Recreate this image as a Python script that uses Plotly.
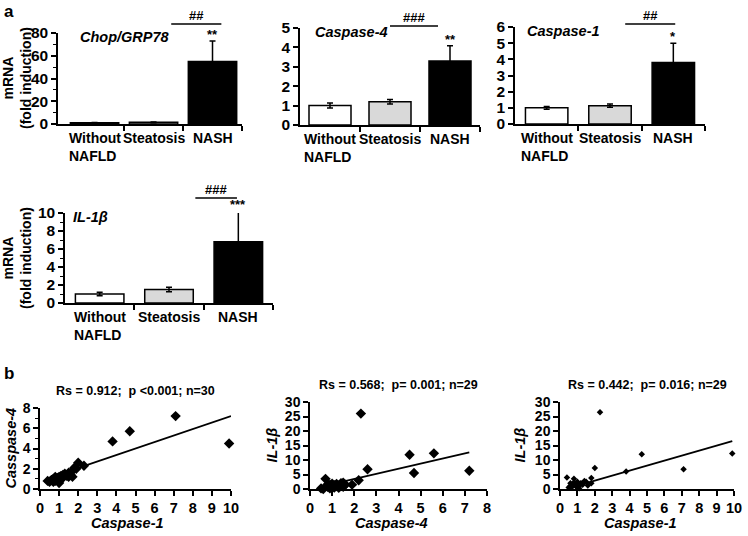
import plotly.graph_objects as go

W, H = 748, 536

# ---------------- data: panel a (bar charts) ----------------
group_labels = ["Without<br>NAFLD", "Steatosis", "NASH"]
bar_colors = ["white", "#d9d9d9", "black"]

chop_mean = [1.0, 1.5, 55.0]
chop_err = [0.3, 0.3, 18.0]
casp4_mean = [1.0, 1.2, 3.3]
casp4_err = [0.13, 0.12, 0.78]
casp1_mean = [1.0, 1.13, 3.8]
casp1_err = [0.08, 0.10, 1.2]
il1b_mean = [1.0, 1.5, 6.8]
il1b_err = [0.2, 0.25, 3.4]

# ---------------- data: panel b (scatter plots) ----------------
b1_x = [3.8, 4.7, 7.1, 9.9, 2.0, 2.3, 0.4, 0.5, 0.6, 0.7, 0.8, 0.9, 1.0, 1.0, 1.1,
        1.2, 1.3, 1.4, 1.5, 1.6, 1.7, 1.8, 1.7, 0.9, 1.1, 1.5, 1.2, 0.7, 1.9, 0.8]
b1_y = [4.7, 5.7, 7.2, 4.5, 2.6, 2.3, 0.8, 0.7, 0.9, 1.0, 0.8, 1.1, 0.6, 1.2, 1.0,
        1.4, 1.5, 1.3, 1.6, 1.4, 1.8, 2.1, 1.2, 0.9, 1.3, 1.2, 1.1, 0.7, 2.0, 1.2]
b1_line_x = [0.4, 10.0]
b1_line_y = [1.05, 7.2]

b2_x = [2.3, 4.5, 5.6, 7.2, 4.7, 2.6, 2.2, 1.9, 0.7, 0.6, 0.5, 0.9, 1.0, 1.1, 1.2,
        1.0, 0.8, 1.3, 1.4, 1.5, 1.6, 1.0, 1.2, 0.9, 1.5, 1.1, 1.3, 0.8, 1.4]
b2_y = [26.0, 11.8, 12.3, 6.3, 5.5, 6.8, 3.0, 1.5, 3.5, 0.0, 0.2, 1.5, 1.8, 0.5, 1.0,
        0.3, 0.8, 1.2, 2.0, 0.8, 1.5, 0.9, 1.7, 0.2, 2.2, 1.3, 0.4, 1.6, 1.0]
b2_line_x = [0.5, 7.2]
b2_line_y = [0.8, 12.6]

b3_x = [2.3, 4.7, 9.9, 7.1, 3.8, 2.0, 0.4, 0.8, 1.8, 1.8, 1.6, 0.5, 0.6, 0.7, 0.8,
        0.9, 1.0, 1.0, 1.1, 1.2, 1.3, 1.4, 0.7, 0.9, 1.1, 1.2, 1.5, 0.6, 1.0]
b3_y = [26.5, 12.0, 12.2, 6.8, 6.0, 7.2, 4.0, 3.5, 3.8, 2.0, 1.2, 0.5, 2.0, 1.5, 2.2,
        1.0, 0.5, 2.5, 1.2, 1.8, 1.5, 2.8, 0.8, 1.8, 0.3, 2.0, 2.5, 1.0, 1.5]
b3_line_x = [0.6, 9.9]
b3_line_y = [0.5, 16.5]

FONT = "Liberation Sans, Arial, sans-serif"


def dom(x0, x1, y0, y1):
    """pixel box (left, right, top, bottom) -> paper domains"""
    return [x0 / W, x1 / W], [1 - y1 / H, 1 - y0 / H]


def px(x, y):
    return x / W, 1 - y / H


fig = go.Figure()
layout = dict(
    width=W, height=H, margin=dict(l=0, r=0, t=0, b=0, autoexpand=False),
    paper_bgcolor="white", plot_bgcolor="white", showlegend=False,
    font=dict(family=FONT, color="black"),
)
annotations = []
shapes = []

bar_panels = [
    # means, errs, ymax, dtick, minor, gene, gene-x, sig, star, box, ytitle-pos,
    # sig-x, sig-offset(px), xrange, width
    (chop_mean, chop_err, 80, 20, 10, "Chop/GRP78", 0.11, "##", "**", (58, 242, 33, 124),
     (17, 78), (1.3, 2.15), 9, [-0.62, 2.5], 0.82),
    (casp4_mean, casp4_err, 5, 1, None, "Caspase-4", 0.07, "###", "**", (300, 480, 28, 125),
     None, (1.0, 1.8), 2, [-0.5, 2.5], 0.7),
    (casp1_mean, casp1_err, 6, 1, None, "Caspase-1", 0.055, "##", "*", (515, 705, 27, 124),
     None, (1.24, 2.03), 3, [-0.5, 2.5], 0.67),
    (il1b_mean, il1b_err, 10, 2, 1, "IL-1<i>β</i>", 0.03, "###", "***", (65, 273, 213, 303),
     (17, 258), (1.38, 1.98), 15, [-0.5, 2.5], 0.7),
]

axis_line = dict(showline=True, linecolor="black", linewidth=1.5, showgrid=False,
                 zeroline=False, ticks="outside", tickcolor="black", tickwidth=1.5,
                 ticklen=5, automargin=False)

idx = 0
for (means, errs, ymax, dtick, minor, gene, gx, sig, star, box, ytpos, sigx, sigoff,
     xr, bw) in bar_panels:
    idx += 1
    xs = "" if idx == 1 else str(idx)
    xd, yd = dom(*box)
    fig.add_trace(go.Bar(
        x=[0, 1, 2], y=means, width=bw,
        marker=dict(color=bar_colors, line=dict(color="black", width=1.5)),
        error_y=dict(type="data", array=errs, color="black", thickness=1.5, width=3),
        xaxis="x" + xs, yaxis="y" + xs, cliponaxis=False,
    ))
    xa = dict(axis_line, domain=xd, anchor="y" + xs, range=xr,
              tickvals=[0.5, 1.5, 2.5], showticklabels=False)
    ya = dict(axis_line, domain=yd, anchor="x" + xs, range=[0, ymax], dtick=dtick,
              tickfont=dict(size=15.5, weight="bold"))
    if minor:
        ya["minor"] = dict(dtick=minor, ticks="outside", ticklen=3, tickcolor="black",
                           tickwidth=1.2)
    layout["xaxis" + xs] = xa
    layout["yaxis" + xs] = ya
    if ytpos:
        tx, ty = px(*ytpos)
        annotations.append(dict(
            x=tx, y=ty, xref="paper", yref="paper", xanchor="center", yanchor="middle",
            textangle=-90, text="mRNA<br>(fold induction)", showarrow=False,
            font=dict(size=14, weight="bold")))
    for gi, lab in enumerate(group_labels):
        annotations.append(dict(
            x=gi, xref="x" + xs, y=0, yref="y%s domain" % xs, yanchor="top",
            xanchor="center", align="left", text=lab, showarrow=False, yshift=-4,
            font=dict(size=14, weight="bold")))
    annotations.append(dict(
        x=gx, xref="x%s domain" % xs, y=1.0, yref="y%s domain" % xs,
        xanchor="left", yanchor="top", text=gene, showarrow=False, yshift=6,
        font=dict(size=14.5, weight="bold", style="italic")))
    shapes.append(dict(type="line", xref="x" + xs, x0=sigx[0], x1=sigx[1],
                       yref="y%s domain" % xs, ysizemode="pixel", yanchor=1,
                       y0=sigoff, y1=sigoff, line=dict(color="black", width=1.5)))
    annotations.append(dict(
        x=(sigx[0] + sigx[1]) / 2, xref="x" + xs, y=1.0, yref="y%s domain" % xs,
        yanchor="bottom", text=sig, showarrow=False, yshift=sigoff - 1,
        font=dict(size=13, weight="bold")))
    annotations.append(dict(
        x=2, xref="x" + xs, y=(means[2] + errs[2]) / ymax, yref="y%s domain" % xs,
        yanchor="bottom", text=star, showarrow=False, yshift=-3,
        font=dict(size=13, weight="bold")))

scatter_panels = [
    (b1_x, b1_y, b1_line_x, b1_line_y, 10, 8, 2, 1, "Caspase-1", "Casspase-4",
     "Rs = 0.912;  p <0.001; n=30", (40, 231, 408, 489), 8, 10),
    (b2_x, b2_y, b2_line_x, b2_line_y, 8, 30, 5, None, "Caspase-4", "IL-1<i>β</i>",
     "Rs = 0.568;  p= 0.001; n=29", (310, 487, 402, 489), 8, 271),
    (b3_x, b3_y, b3_line_x, b3_line_y, 10, 30, 5, None, "Caspase-1", "IL-1<i>β</i>",
     "Rs = 0.442;  p= 0.016; n=29", (560, 734, 402, 489), 5, 519),
]

for sx, sy, lx, ly, xmax, ymax, ydt, yminor, xt, yt, title, box, msize, ytx in scatter_panels:
    idx += 1
    xs = str(idx)
    xd, yd = dom(*box)
    fig.add_trace(go.Scatter(
        x=sx, y=sy, mode="markers", xaxis="x" + xs, yaxis="y" + xs,
        marker=dict(symbol="diamond", size=msize, color="black"), cliponaxis=False))
    fig.add_trace(go.Scatter(
        x=lx, y=ly, mode="lines", xaxis="x" + xs, yaxis="y" + xs,
        line=dict(color="black", width=1.8), cliponaxis=False))
    layout["xaxis" + xs] = dict(axis_line, domain=xd, anchor="y" + xs,
                                range=[0, xmax], dtick=1,
                                tickfont=dict(size=14.5, weight="bold"))
    ya = dict(axis_line, domain=yd, anchor="x" + xs,
              range=[0, ymax], dtick=ydt,
              tickfont=dict(size=14, weight="bold"))
    if yminor:
        ya["minor"] = dict(dtick=yminor, ticks="outside", ticklen=3, tickcolor="black",
                           tickwidth=1.2)
    layout["yaxis" + xs] = ya
    annotations.append(dict(
        x=0.5, xref="x%s domain" % xs, y=1.0, yref="y%s domain" % xs,
        yanchor="bottom", text=title, showarrow=False, yshift=8,
        font=dict(size=12.5, weight="bold")))
    annotations.append(dict(
        x=0.46, xref="x%s domain" % xs, y=px(0, 523)[1], yref="paper",
        xanchor="center", yanchor="middle", text=xt, showarrow=False,
        font=dict(size=14.5, weight="bold", style="italic")))
    tx, ty = px(ytx, (box[2] + box[3]) / 2)
    annotations.append(dict(
        x=tx, y=ty, xref="paper", yref="paper", xanchor="center", yanchor="middle",
        textangle=-90, text=yt, showarrow=False,
        font=dict(size=14.5, weight="bold", style="italic")))

annotations.append(dict(x=2 / W, y=1, xref="paper", yref="paper",
                        xanchor="left", yanchor="top", text="a", showarrow=False,
                        font=dict(size=17, weight="bold")))
annotations.append(dict(x=2 / W, y=px(0, 362)[1], xref="paper", yref="paper",
                        xanchor="left", yanchor="top", text="b", showarrow=False,
                        font=dict(size=17, weight="bold")))

layout["annotations"] = annotations
layout["shapes"] = shapes
fig.update_layout(**layout)
fig.write_html("out.html", config={"displayModeBar": False},
               post_script="document.body.style.margin='0';"
                           "document.body.style.overflow='hidden';")
